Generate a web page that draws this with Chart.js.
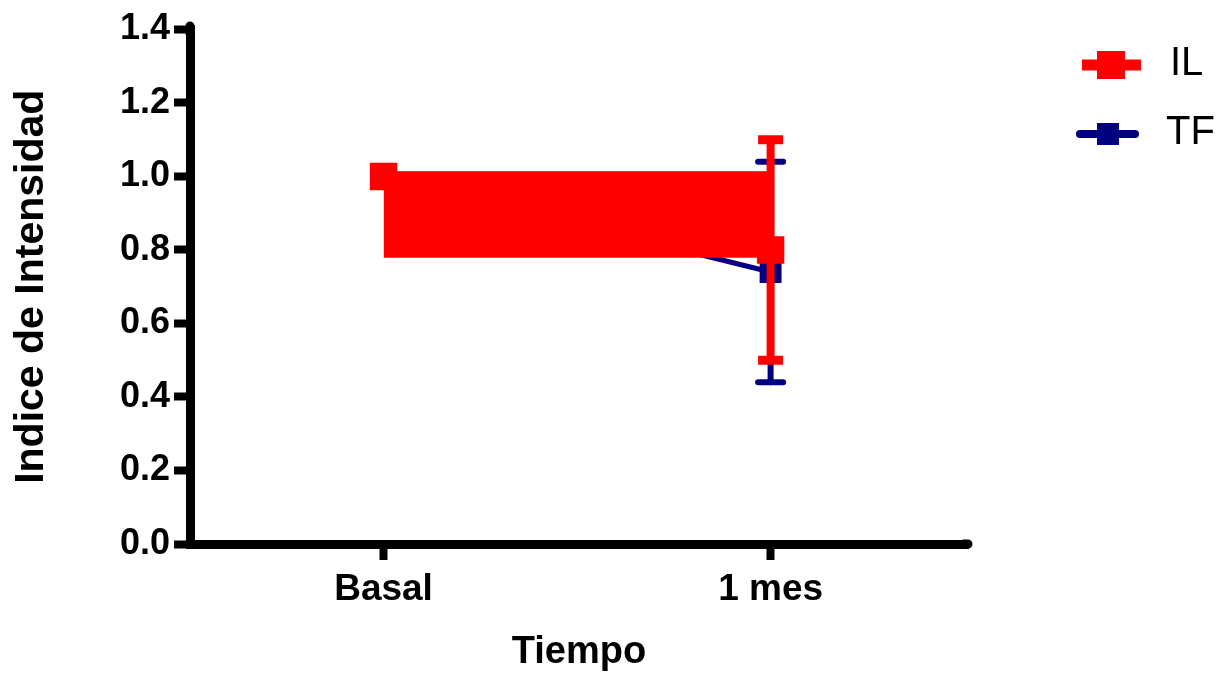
<!DOCTYPE html>
<html>
<head>
<meta charset="utf-8">
<script src="https://cdn.jsdelivr.net/npm/chart.js@4.4.1/dist/chart.umd.min.js"></script>
<style>
  html, body { margin: 0; padding: 0; background: #fff; }
</style>
</head>
<body>
<canvas id="myChart" width="1223" height="675"></canvas>
<script>
// data
const categories = ['Basal', '1 mes'];
const ilMean = [1.0, 0.8];
const ilErr = [0, 0.3];
const tfMean = [1.0, 0.74];
const tfErr = [0, 0.3];
// solid red block drawn between the two IL points (top edge / bottom edge)
const ilBandTop = [1.013, 1.013];
const ilBandBottom = 0.779;
const yTicks = [0, 0.2, 0.4, 0.6, 0.8, 1.0, 1.2, 1.4];

const FONT = "'Liberation Sans', Arial, sans-serif";
const RED = '#ff0000';
const NAVY = '#000080';

const toPoints = vals => vals.map((v, i) => ({ x: i, y: v }));

// draws mean +/- error bars right after the dataset itself
const errorBars = {
    id: 'errorBars',
    afterDatasetDraw(chart, args) {
        const ds = chart.data.datasets[args.index];
        if (!ds.errors) return;
        const ctx = chart.ctx;
        const xs = chart.scales.x, ys = chart.scales.y;
        ctx.save();
        ctx.strokeStyle = ds.borderColor;
        ctx.lineCap = ds.errLineCap;
        ds.data.forEach((p, i) => {
            const e = ds.errors[i];
            if (!e) return;
            const x = xs.getPixelForValue(p.x);
            const yHi = ys.getPixelForValue(p.y + e);
            const yLo = ys.getPixelForValue(p.y - e);
            ctx.lineWidth = ds.errStem;
            ctx.beginPath();
            ctx.moveTo(x, yHi);
            ctx.lineTo(x, yLo);
            ctx.stroke();
            ctx.lineWidth = ds.errCap;
            [yHi, yLo].forEach(y => {
                ctx.beginPath();
                ctx.moveTo(x - 12.5, y);
                ctx.lineTo(x + 12.5, y);
                ctx.stroke();
            });
        });
        ctx.restore();
    }
};

// rounded ends on the axis lines, like the original
const axisEnds = {
    id: 'axisEnds',
    afterDraw(chart) {
        const { ctx, chartArea: a } = chart;
        ctx.save();
        ctx.strokeStyle = '#000';
        ctx.lineWidth = 9;
        ctx.lineCap = 'round';
        ctx.beginPath();
        ctx.moveTo(a.left, a.top + 4);
        ctx.lineTo(a.left, a.top - 3.5);
        ctx.moveTo(a.right - 4, a.bottom);
        ctx.lineTo(a.right, a.bottom);
        ctx.stroke();
        ctx.restore();
    }
};

// GraphPad style legend on the right
const sideLegend = {
    id: 'sideLegend',
    afterDraw(chart) {
        const ctx = chart.ctx;
        const items = [
            { text: 'IL', color: RED, y: 65, x0: 1082, x1: 1141, lw: 11, cap: 'butt', cx: 1111, sq: 28, tx: 1170 },
            { text: 'TF', color: NAVY, y: 134, x0: 1080, x1: 1135, lw: 8, cap: 'round', cx: 1108, sq: 22, tx: 1166 }
        ];
        ctx.save();
        items.forEach(it => {
            ctx.strokeStyle = it.color;
            ctx.fillStyle = it.color;
            ctx.lineWidth = it.lw;
            ctx.lineCap = it.cap;
            ctx.beginPath();
            ctx.moveTo(it.x0, it.y);
            ctx.lineTo(it.x1, it.y);
            ctx.stroke();
            ctx.fillRect(it.cx - it.sq / 2, it.y - it.sq / 2, it.sq, it.sq);
            ctx.fillStyle = '#000';
            ctx.font = '40px ' + FONT;
            ctx.textBaseline = 'middle';
            ctx.textAlign = 'left';
            ctx.fillText(it.text, it.tx, it.y - 1);
        });
        ctx.restore();
    }
};

const ctx = document.getElementById('myChart').getContext('2d');

const chart = new Chart(ctx, {
    type: 'line',
    data: {
        datasets: [
            {
                label: 'TF',
                data: toPoints(tfMean),
                errors: tfErr,
                errStem: 6, errCap: 6, errLineCap: 'round',
                borderColor: NAVY,
                backgroundColor: NAVY,
                borderWidth: 5,
                pointStyle: 'rect',
                pointRadius: 15.5,
                pointBorderWidth: 0,
                fill: false,
                order: 3
            },
            {
                label: 'IL band',
                data: toPoints(ilBandTop),
                borderColor: RED,
                backgroundColor: RED,
                borderWidth: 1,
                pointRadius: 0,
                fill: { value: ilBandBottom },
                order: 2
            },
            {
                label: 'IL',
                data: toPoints(ilMean),
                errors: ilErr,
                errStem: 8, errCap: 9, errLineCap: 'butt',
                borderColor: RED,
                backgroundColor: RED,
                borderWidth: 11,
                pointStyle: 'rect',
                pointRadius: 19.4,
                pointBorderWidth: 0,
                fill: false,
                order: 1
            }
        ]
    },
    options: {
        responsive: false,
        animation: false,
        layout: { padding: { left: 0, top: 29.5, right: 255, bottom: 0 } },
        plugins: {
            legend: { display: false },
            tooltip: { enabled: false }
        },
        scales: {
            x: {
                type: 'linear',
                min: -0.5,
                max: 1.51,
                afterFit: s => { s.height = 131; },
                afterBuildTicks: s => { s.ticks = categories.map((c, i) => ({ value: i })); },
                border: { display: true, color: '#000', width: 9 },
                grid: { display: true, drawOnChartArea: false, drawTicks: true, tickLength: 16, tickWidth: 8, tickColor: '#000' },
                ticks: {
                    color: '#000',
                    autoSkip: false,
                    maxRotation: 0,
                    padding: 8,
                    font: { family: FONT, size: 37, weight: 'bold' },
                    callback: v => categories[v]
                },
                title: {
                    display: true,
                    text: 'Tiempo',
                    color: '#000',
                    font: { family: FONT, size: 38, weight: 'bold' },
                    padding: { top: 0, bottom: 0 }
                }
            },
            y: {
                min: 0,
                max: 1.4,
                afterFit: s => { s.width = 190; },
                afterBuildTicks: s => { s.ticks = yTicks.map(v => ({ value: v })); },
                border: { display: true, color: '#000', width: 9 },
                grid: { display: true, drawOnChartArea: false, drawTicks: true, tickLength: 16, tickWidth: 8, tickColor: '#000' },
                ticks: {
                    color: '#000',
                    padding: 4,
                    font: { family: FONT, size: 36, weight: 'bold' },
                    callback: v => v.toFixed(1)
                },
                title: {
                    display: true,
                    text: 'Indice de Intensidad',
                    color: '#000',
                    font: { family: FONT, size: 41, weight: 'bold' },
                    padding: { top: 7, bottom: 0 }
                }
            }
        }
    },
    plugins: [errorBars, axisEnds, sideLegend]
});
</script>
</body>
</html>
